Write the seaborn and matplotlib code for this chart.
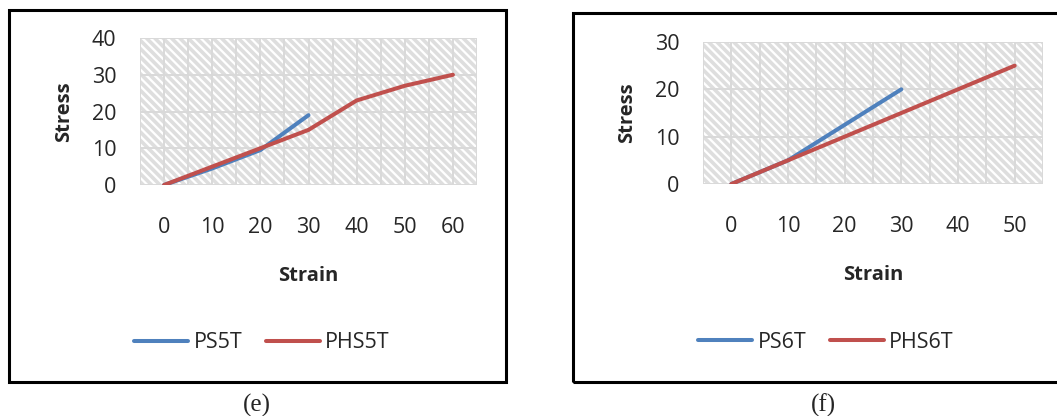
import matplotlib
matplotlib.use("Agg")
import matplotlib.pyplot as plt
from matplotlib.patches import Rectangle
from matplotlib.lines import Line2D
import seaborn as sns
import pandas as pd
import numpy as np

# ---- data ----
strain_ps5t = [0, 10, 20, 30]
stress_ps5t = [0, 4.5, 9.5, 19]
strain_phs5t = [0, 10, 20, 30, 40, 50, 60]
stress_phs5t = [0, 5, 10, 15, 23, 27, 30]

strain_ps6t = [0, 10, 20, 30]
stress_ps6t = [0, 5, 12.5, 20]
strain_phs6t = [0, 10, 20, 30, 40, 50]
stress_phs6t = [0, 5, 10, 15, 20, 25]

xticks_e = [0, 10, 20, 30, 40, 50, 60]
yticks_e = [0, 10, 20, 30, 40]
xticks_f = [0, 10, 20, 30, 40, 50]
yticks_f = [0, 10, 20, 30]

BLUE = "#4F81BD"
RED = "#C0504D"

sns.set_style("white")
plt.rcParams['font.family'] = ['Open Sans', 'DejaVu Sans']
plt.rcParams['hatch.color'] = '#dedede'
plt.rcParams['hatch.linewidth'] = 2.6

W, H = 1057, 416
fig = plt.figure(figsize=(W / 100, H / 100), dpi=100)


def fx(px):
    return px / W


def fy(py):
    return 1 - py / H


def panel(box, axbox, xs, ys, names, xticks, yticks, xlim, ylim, legbox, caption_x, caption):
    x0, y0, x1, y1 = box
    fig.patches.append(Rectangle((fx(x0), fy(y1)), fx(x1) - fx(x0), fy(y0) - fy(y1),
                                 transform=fig.transFigure, fill=False,
                                 edgecolor='black', linewidth=2.2, zorder=0))
    ax0, ay0, ax1, ay1 = axbox
    ax = fig.add_axes([fx(ax0), fy(ay1), fx(ax1) - fx(ax0), fy(ay0) - fy(ay1)])
    ax.set_xlim(*xlim)
    ax.set_ylim(*ylim)
    ax.add_patch(Rectangle((xlim[0], ylim[0]), xlim[1] - xlim[0], ylim[1] - ylim[0],
                           facecolor='white', edgecolor='#dedede', hatch='\\\\\\\\',
                           linewidth=0, zorder=0))
    for gx in np.arange(xlim[0], xlim[1] + 0.1, 5):
        ax.axvline(gx, color='#d9d9d9', lw=1.4, zorder=1)
    for gy in yticks:
        ax.axhline(gy, color='#d9d9d9', lw=1.4, zorder=1)
    frames = []
    for x, y, n in zip(xs, ys, names):
        frames.append(pd.DataFrame({'Strain': x, 'Stress': y, 'series': n}))
    df = pd.concat(frames, ignore_index=True)
    sns.lineplot(data=df, x='Strain', y='Stress', hue='series', palette=[BLUE, RED],
                 hue_order=names, ax=ax, linewidth=2.9, legend=False,
                 solid_capstyle='round', zorder=3)
    for s in ax.spines.values():
        s.set_visible(False)
    ax.set_xticks(xticks)
    ax.set_yticks(yticks)
    ax.tick_params(axis='x', length=0, pad=23, labelsize=15.5)
    ax.tick_params(axis='y', length=0, pad=17, labelsize=15.5)
    ax.set_xlabel('Strain', fontsize=14.5, fontweight='bold', labelpad=20)
    ax.set_ylabel('Stress', fontsize=14.5, fontweight='bold', labelpad=13)
    handles = [Line2D([], [], color=BLUE, lw=2.9, solid_capstyle='round'),
               Line2D([], [], color=RED, lw=2.9, solid_capstyle='round')]
    fig.legend(handles, names, loc='center', ncol=2, frameon=False,
               bbox_to_anchor=(fx(legbox[0]), fy(legbox[1])),
               bbox_transform=fig.transFigure, fontsize=15.5,
               handlelength=2.5, handletextpad=0.25, columnspacing=1.1)
    fig.text(fx(caption_x), fy(405), caption, ha='center', va='center',
             fontsize=18, family=['Liberation Serif', 'DejaVu Serif'])
    return ax


panel((9, 10, 506, 382), (140, 38, 477, 185),
      [strain_ps5t, strain_phs5t], [stress_ps5t, stress_phs5t], ['PS5T', 'PHS5T'],
      xticks_e, yticks_e, (-5, 65), (0, 40), (262, 343), 257, '(e)')

panel((573, 13, 1062, 382), (703, 42, 1043, 184),
      [strain_ps6t, strain_phs6t], [stress_ps6t, stress_phs6t], ['PS6T', 'PHS6T'],
      xticks_f, yticks_f, (-5, 55), (0, 30), (826, 342), 823, '(f)')

fig.savefig('out.png', dpi=100)
